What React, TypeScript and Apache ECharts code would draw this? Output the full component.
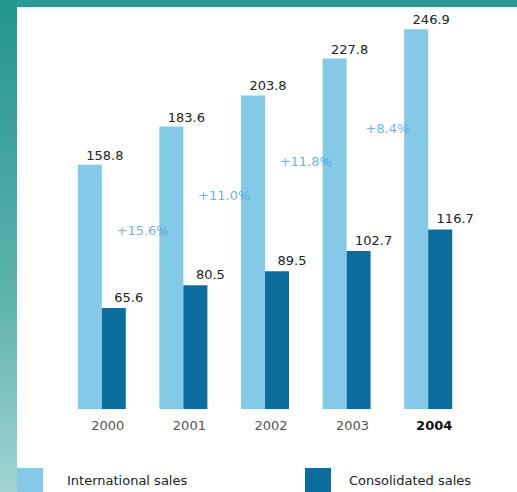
import React, { useEffect, useRef } from "react";
import * as echarts from "echarts";

const years = ["2000", "2001", "2002", "2003", "2004"];
const internationalSales = [158.8, 183.6, 203.8, 227.8, 246.9];
const consolidatedSales = [65.6, 80.5, 89.5, 102.7, 116.7];
const growthLabels = ["+15.6%", "+11.0%", "+11.8%", "+8.4%"];

const FONT = "DejaVu Sans";

export default function App() {
  const ref = useRef<HTMLDivElement>(null);
  useEffect(() => {
    if (!ref.current) return;
    const chart = echarts.init(ref.current, undefined, { renderer: "svg" });
    const growthPoints = growthLabels.map((g, i) => ({
      value: [i + 0.5, (internationalSales[i] + internationalSales[i + 1]) / 2 - 55],
      label: { formatter: g },
    }));
    chart.setOption({
      animation: false,
      backgroundColor: "#ffffff",
      graphic: [
        {
          type: "rect",
          left: 0,
          top: 0,
          shape: { width: 517, height: 7 },
          style: { fill: "#2a9c95" },
          silent: true,
        },
        {
          type: "rect",
          left: 0,
          top: 0,
          shape: { width: 17, height: 492 },
          style: {
            fill: new echarts.graphic.LinearGradient(0, 0, 0, 1, [
              { offset: 0, color: "#22958f" },
              { offset: 0.6, color: "#5cb3ad" },
              { offset: 1, color: "#9fd4d2" },
            ]),
          },
          silent: true,
        },
      ],
      legend: [
        {
          data: ["International sales"],
          left: 17,
          top: 468,
          itemWidth: 26,
          itemHeight: 24,
          icon: "rect",
          selectedMode: false,
          padding: 0,
          textStyle: { fontFamily: FONT, fontSize: 13, color: "#222", padding: [0, 0, 0, 19] },
        },
        {
          data: ["Consolidated sales"],
          left: 305,
          top: 468,
          itemWidth: 26,
          itemHeight: 24,
          icon: "rect",
          selectedMode: false,
          padding: 0,
          textStyle: { fontFamily: FONT, fontSize: 13, color: "#222", padding: [0, 0, 0, 13] },
        },
      ],
      grid: { left: 61, right: 48, top: 9, bottom: 83 },
      xAxis: [
        {
          type: "category",
          data: years.map((y, i) =>
            i === years.length - 1
              ? { value: y, textStyle: { fontWeight: "bold", color: "#111" } }
              : y
          ),
          axisLine: { show: false },
          axisTick: { show: false },
          axisLabel: {
            fontFamily: FONT,
            fontSize: 13,
            color: "#555",
            margin: 10,
            padding: [0, 0, 0, 12],
          },
        },
        {
          type: "value",
          min: -0.5,
          max: 4.5,
          show: false,
        },
      ],
      yAxis: {
        type: "value",
        min: 0,
        max: 260,
        show: false,
        splitLine: { show: false },
      },
      series: [
        {
          name: "International sales",
          type: "bar",
          data: internationalSales,
          barWidth: 24,
          barGap: "0%",
          itemStyle: { color: "#84c9e8" },
          label: {
            show: true,
            position: "top",
            distance: 3,
            offset: [15, 0],
            fontFamily: FONT,
            fontSize: 13,
            color: "#222",
          },
        },
        {
          name: "Consolidated sales",
          type: "bar",
          data: consolidatedSales,
          barWidth: 24,
          barGap: "0%",
          itemStyle: { color: "#0b6e9f" },
          label: {
            show: true,
            position: "top",
            distance: 4,
            offset: [15, 0],
            fontFamily: FONT,
            fontSize: 13,
            color: "#222",
          },
        },
        {
          type: "scatter",
          xAxisIndex: 1,
          data: growthPoints,
          symbolSize: 0,
          silent: true,
          label: {
            show: true,
            position: "inside",
            fontFamily: FONT,
            fontSize: 13,
            color: "#4a9fcf",
          },
        },
      ],
    });
    return () => chart.dispose();
  }, []);
  return (
    <div
      ref={ref}
      style={{ position: "absolute", left: 0, top: 0, width: 517, height: 492 }}
    />
  );
}
